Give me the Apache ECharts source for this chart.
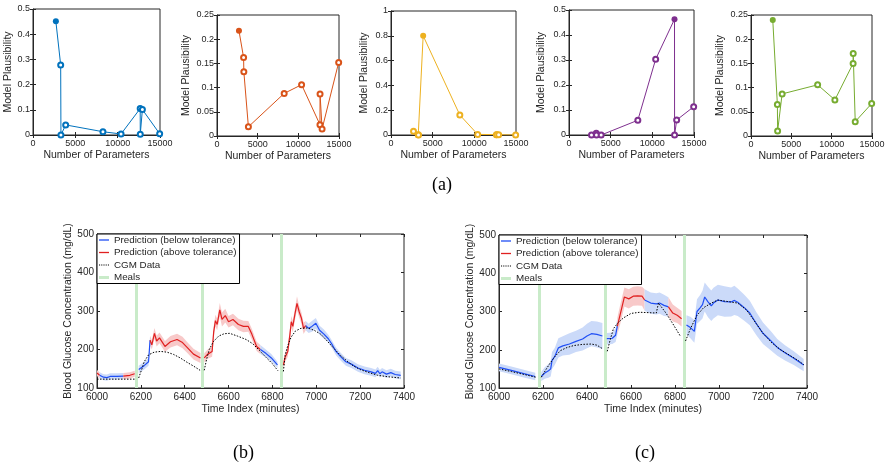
<!DOCTYPE html>
<html>
<head>
<meta charset="utf-8">
<script src="https://cdn.jsdelivr.net/npm/echarts@6/dist/echarts.min.js"></script>
<style>
  html, body { margin: 0; background: #fff; }
  #chart { width: 888px; height: 474px; }
</style>
</head>
<body>
<div id="chart"></div>
<script>
// ---- data: (a) model plausibility vs number of parameters
const numParams = [2700, 3270, 3300, 3860, 8260, 10400, 12660, 12670, 12920, 14960];
const plaus1 = [0.451, 0.278, 0, 0.040, 0.013, 0.004, 0.105, 0.003, 0.101, 0.005];
const plaus2 = [0.2175, 0.162, 0.133, 0.019, 0.088, 0.106, 0.0235, 0.087, 0.0145, 0.152];
const plaus3 = [0.03, 0.003, 0, 0.80, 0.161, 0.005, 0.003, 0.003, 0.002, 0];
const plaus4 = [0, 0.007, 0, 0, 0.059, 0.303, 0.463, 0, 0.06, 0.113];
const plaus5 = [0.2396, 0.065, 0.0104, 0.087, 0.1057, 0.0746, 0.15, 0.1706, 0.0297, 0.067];
const plausMax = [0.5, 0.25, 1, 0.5, 0.25];
const plausStep = [0.1, 0.05, 0.2, 0.1, 0.05];
const paramTicks = [0, 15000, 5000];

// ---- data: (b), (c) glucose predictions
// prediction points: [time, mean, half band width, above tolerance (1) / below (0)]
const predB = [
  [[6000,139,8,1],[6012,133,8,0],[6030,128,8,0],[6045,127,8,0],[6060,130,8,0],[6090,130,8,0],[6120,131,8,1],[6150,133,8,1],[6172,137,8,1]],
  [[6190,148,10,0],[6215,158,10,0],[6235,168,10,0],[6242,224,12,1],[6250,212,12,1],[6262,242,14,1],[6272,222,14,1],[6285,230,14,1],[6310,208,14,1],[6335,220,15,1],[6365,226,15,1],[6390,218,15,1],[6412,205,14,1],[6440,188,14,1],[6472,178,13,1]],
  [[6489,178,12,1],[6505,188,12,1],[6525,195,14,1],[6532,245,15,1],[6540,275,15,1],[6548,265,15,1],[6560,303,18,1],[6570,278,18,1],[6585,288,18,1],[6600,272,15,1],[6620,278,15,1],[6645,265,15,1],[6668,260,15,1],[6690,260,14,1],[6706,240,14,1],[6728,208,12,1],[6745,200,12,0],[6770,190,10,0],[6795,178,10,0],[6823,160,8,0]],
  [[6850,160,12,1],[6858,180,12,1],[6870,195,14,1],[6880,240,15,1],[6886,272,15,1],[6893,260,15,1],[6902,290,15,1],[6912,320,18,1],[6922,298,15,1],[6932,282,15,1],[6942,255,15,1],[6952,262,12,0],[6965,255,12,0],[6980,260,14,0],[6998,268,14,0],[7015,250,12,0],[7035,240,12,0],[7055,228,10,0],[7070,215,10,0],[7090,195,10,0],[7110,182,10,0],[7135,168,10,0],[7160,162,10,0],[7190,152,10,0],[7220,146,10,0],[7250,142,10,0],[7270,138,10,0],[7280,145,10,0],[7290,137,10,0],[7300,142,10,0],[7320,136,10,0],[7340,140,10,0],[7360,135,10,0],[7385,133,10,0]]
];
const cgmB = [
  [[6000,123],[6090,123],[6175,123]],
  [[6190,126],[6205,150],[6215,168],[6235,186],[6260,193],[6290,195],[6320,193],[6350,187],[6380,178],[6410,167],[6440,157],[6470,146]],
  [[6489,146],[6500,175],[6512,200],[6530,220],[6555,235],[6580,241],[6605,242],[6640,235],[6680,226],[6710,215],[6740,198],[6770,180],[6800,163],[6825,145]],
  [[6850,143],[6858,185],[6870,210],[6885,232],[6905,248],[6930,255],[6960,256],[6990,250],[7020,240],[7050,222],[7080,203],[7110,185],[7140,170],[7170,157],[7200,148],[7240,140],[7280,133],[7330,129],[7385,126]]
];
const mealsB = [6180, 6482, 6841];

const predC = [
  [[6000,154,10,0],[6056,146,10,0],[6117,137,10,0],[6165,130,10,0]],
  [[6192,130,12,0],[6208,139,15,0],[6225,145,18,0],[6235,150,20,0],[6241,172,22,0],[6254,183,22,0],[6270,205,25,0],[6290,210,25,0],[6320,215,28,0],[6350,222,28,0],[6380,228,30,0],[6400,236,32,0],[6420,242,33,0],[6445,240,34,0],[6470,236,34,0]],
  [[6490,229,15,0],[6515,230,15,0],[6530,238,18,0],[6538,262,22,1],[6550,290,25,1],[6570,338,25,1],[6590,333,25,1],[6610,340,25,1],[6630,341,25,1],[6650,340,25,1],[6662,330,28,0],[6690,322,28,0],[6715,320,28,0],[6730,322,28,0],[6750,316,28,0],[6770,312,25,1],[6790,296,22,1],[6810,290,20,1],[6830,281,20,1]],
  [[6852,265,25,0],[6870,258,28,0],[6888,248,30,0],[6900,300,32,0],[6915,310,34,0],[6925,318,36,0],[6935,338,38,0],[6950,325,40,0],[6965,315,40,0],[6975,322,40,0],[6995,330,40,0],[7025,326,40,0],[7055,325,38,0],[7070,329,38,0],[7085,324,36,0],[7115,310,34,0],[7140,296,32,0],[7170,268,30,0],[7200,243,28,0],[7235,224,25,0],[7265,206,22,0],[7300,192,20,0],[7340,178,18,0],[7385,160,16,0]]
];
const cgmC = [
  [[6000,150],[6056,143],[6117,135],[6168,128]],
  [[6192,128],[6210,145],[6230,163],[6255,183],[6280,198],[6310,206],[6340,211],[6380,214],[6420,215],[6445,212],[6470,203]],
  [[6492,196],[6505,225],[6520,255],[6540,270],[6565,283],[6600,295],[6640,298],[6680,297],[6715,296],[6725,322],[6760,295],[6790,268],[6825,235]],
  [[6848,223],[6870,255],[6900,290],[6930,310],[6965,322],[6995,330],[7040,326],[7085,322],[7125,304],[7160,276],[7200,243],[7240,218],[7280,200],[7320,186],[7360,172],[7385,161]]
];
const mealsC = [6183, 6485, 6844];
const timeTicks = [6000, 7400, 200];
const glucoseTicks = [100, 500, 100];

const BELOW = 'Prediction (below tolerance)';
const ABOVE = 'Prediction (above tolerance)';
const FONT = 'Liberation Sans, Arial, sans-serif';
const AX = '#262626';
const matlabColors = ['#0072BD', '#D95319', '#EDB120', '#7E2F8E', '#77AC30'];
const BLUE = '#1f4ef5', RED = '#e02020';
const BLUE_BAND = '#cbdaf9', RED_BAND = '#f8c9c9', MEAL = '#c9ebc9';

// legend icons: plain line, dotted line, thick line
const ICON_LINE = 'path://M0,0h20v2.6h-20z';
const ICON_DOT = 'path://M0,0h2v2h-2zM4,0h2v2h-2zM8,0h2v2h-2zM12,0h2v2h-2zM16,0h2v2h-2z';
const ICON_THICK = 'path://M0,0h10v3h-10z';

const grids = [], xAxes = [], yAxes = [], series = [];

function addGrid(box, x, y) {
  const gi = grids.length;
  grids.push({ left: box.left, top: box.top, width: box.width, height: box.height,
    show: true, borderColor: AX, borderWidth: 1, backgroundColor: 'rgba(0,0,0,0)' });
  const tick = { show: true, inside: true, length: 3, lineStyle: { color: AX } };
  const label = (fs, m) => ({ color: AX, fontSize: fs, fontFamily: FONT, margin: m });
  const nameStyle = { color: AX, fontSize: 10.5, fontFamily: FONT };
  xAxes.push({ gridIndex: gi, type: 'value', min: x.t[0], max: x.t[1], interval: x.t[2], position: 'bottom',
    axisLine: { show: true, onZero: false, lineStyle: { color: AX } }, axisTick: tick, splitLine: { show: false },
    axisLabel: Object.assign(label(x.fs, 4), { formatter: v => String(v) }),
    name: x.name, nameLocation: 'middle', nameGap: x.gap, nameTextStyle: nameStyle });
  xAxes.push({ gridIndex: gi, type: 'value', min: x.t[0], max: x.t[1], interval: x.t[2], position: 'top',
    axisLine: { show: false }, axisTick: tick, axisLabel: { show: false }, splitLine: { show: false } });
  yAxes.push({ gridIndex: gi, type: 'value', min: y.t[0], max: y.t[1], interval: y.t[2], position: 'left',
    axisLine: { show: true, onZero: false, lineStyle: { color: AX } }, axisTick: tick, splitLine: { show: false },
    axisLabel: label(y.fs, 3),
    name: y.name, nameLocation: 'middle', nameGap: y.gap, nameTextStyle: nameStyle });
  yAxes.push({ gridIndex: gi, type: 'value', min: y.t[0], max: y.t[1], interval: y.t[2], position: 'right',
    axisLine: { show: false }, axisTick: tick, axisLabel: { show: false }, splitLine: { show: false } });
  return gi;
}

// ---- (a) five small panels
const topBoxes = [
  { left: 33, top: 9, width: 127, height: 126, gap: 19 },
  { left: 217, top: 15, width: 122, height: 121, gap: 25 },
  { left: 391, top: 11, width: 125, height: 124, gap: 21 },
  { left: 569, top: 10, width: 125, height: 125, gap: 22 },
  { left: 751, top: 15, width: 121, height: 121, gap: 25 }
];
[plaus1, plaus2, plaus3, plaus4, plaus5].forEach((vals, k) => {
  const b = topBoxes[k];
  const gi = addGrid(b,
    { t: paramTicks, fs: 9, name: 'Number of Parameters', gap: 15 },
    { t: [0, plausMax[k], plausStep[k]], fs: 9, name: 'Model Plausibility', gap: b.gap });
  const best = vals.indexOf(Math.max(...vals));
  const c = matlabColors[k];
  series.push({
    type: 'line', xAxisIndex: gi * 2, yAxisIndex: gi * 2, animation: false, silent: true,
    symbol: 'emptyCircle', symbolSize: 5,
    lineStyle: { color: c, width: 1 }, itemStyle: { color: c, borderWidth: 0.9 },
    data: numParams.map((p, i) => i === best
      ? { value: [p, vals[i]], symbol: 'circle', symbolSize: 6 }
      : [p, vals[i]])
  });
});

// ---- (b), (c) glucose panels
function splitRuns(seg) {
  const runs = [];
  let cur = null;
  seg.forEach(p => {
    if (!cur || cur.flag !== p[3]) {
      if (cur) cur.pts.push(p);
      cur = { flag: p[3], pts: [p] };
      runs.push(cur);
    } else {
      cur.pts.push(p);
    }
  });
  return runs;
}

function glucosePanel(box, pred, cgm, meals) {
  const gi = addGrid(box,
    { t: timeTicks, fs: 10, name: 'Time Index (minutes)', gap: 16 },
    { t: glucoseTicks, fs: 10, name: 'Blood Glucose Concentration (mg/dL)', gap: 23 });
  const ax = { xAxisIndex: gi * 2, yAxisIndex: gi * 2, animation: false, silent: true };
  pred.forEach(seg => splitRuns(seg).forEach(run => {
    const pts = run.pts;
    series.push(Object.assign({
      type: 'custom', z: 1,
      data: pts.map(p => [p[0], p[1]]),
      renderItem: (params, api) => {
        if (params.dataIndex !== 0) return null;
        const up = pts.map(p => api.coord([p[0], p[1] + p[2]]));
        const lo = pts.map(p => api.coord([p[0], p[1] - p[2]])).reverse();
        return { type: 'polygon', shape: { points: up.concat(lo) },
          style: { fill: run.flag ? RED_BAND : BLUE_BAND } };
      }
    }, ax));
  }));
  series.push(Object.assign({
    name: 'Meals', type: 'line', z: 2, data: [], symbol: 'none',
    lineStyle: { color: MEAL, width: 3 }, itemStyle: { color: MEAL },
    markLine: { z: 2, symbol: 'none', silent: true, animation: false, label: { show: false },
      lineStyle: { color: MEAL, width: 3, type: 'solid' },
      data: meals.map(t => ({ xAxis: t })) }
  }, ax));
  cgm.forEach(seg => series.push(Object.assign({
    name: 'CGM Data', type: 'line', z: 4, symbol: 'none', showSymbol: false,
    lineStyle: { color: '#000', width: 1, type: [1.5, 1.5] }, itemStyle: { color: '#000' },
    data: seg
  }, ax)));
  pred.forEach(seg => splitRuns(seg).forEach(run => {
    const c = run.flag ? RED : BLUE;
    series.push(Object.assign({
      name: run.flag ? ABOVE : BELOW, type: 'line', z: 3, symbol: 'none', showSymbol: false,
      lineStyle: { color: c, width: 1.2 }, itemStyle: { color: c },
      data: run.pts.map(p => [p[0], p[1]])
    }, ax));
  }));
  return gi;
}

glucosePanel({ left: 97, top: 234, width: 307, height: 154 }, predB, cgmB, mealsB);
glucosePanel({ left: 499, top: 235, width: 308, height: 153 }, predC, cgmC, mealsC);

const legendBase = {
  orient: 'vertical', z: 20,
  data: [
    { name: BELOW, icon: ICON_LINE },
    { name: ABOVE, icon: ICON_LINE },
    { name: 'CGM Data', icon: ICON_DOT },
    { name: 'Meals', icon: ICON_THICK }
  ],
  itemWidth: 10, itemHeight: 10, itemGap: 2.5, padding: [1, 3, 1, 2],
  borderColor: '#000', borderWidth: 1, backgroundColor: '#fff',
  selectedMode: false,
  textStyle: { fontSize: 9.8, fontFamily: FONT, color: AX }
};

const chart = echarts.init(document.getElementById('chart'), null, { renderer: 'canvas' });
chart.setOption({
  animation: false,
  backgroundColor: '#fff',
  grid: grids,
  xAxis: xAxes,
  yAxis: yAxes,
  legend: [
    Object.assign({ left: 97, top: 234 }, legendBase),
    Object.assign({ left: 499, top: 235 }, legendBase)
  ],
  graphic: [
    { type: 'text', left: 432, top: 176, style: { text: '(a)', font: '18px "Liberation Serif", serif', fill: '#000' } },
    { type: 'text', left: 233, top: 444, style: { text: '(b)', font: '18px "Liberation Serif", serif', fill: '#000' } },
    { type: 'text', left: 635, top: 444, style: { text: '(c)', font: '18px "Liberation Serif", serif', fill: '#000' } }
  ],
  series: series
});
</script>
</body>
</html>
